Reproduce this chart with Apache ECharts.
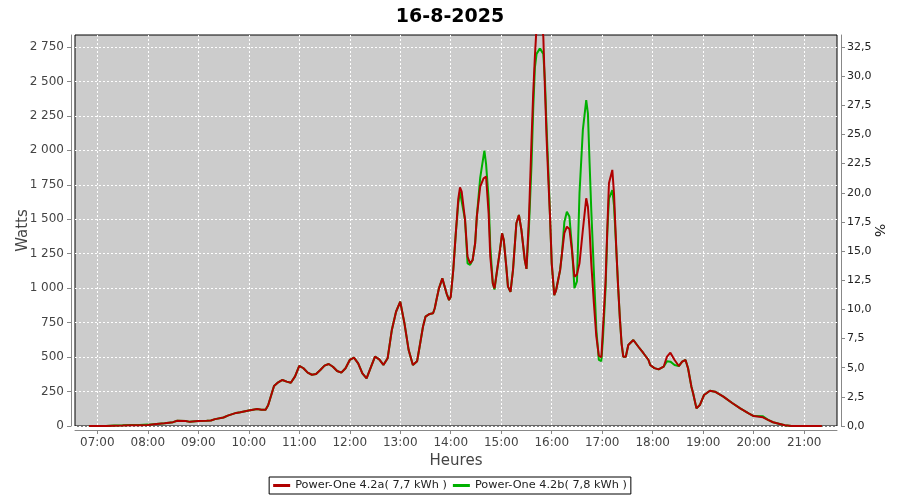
<!DOCTYPE html>
<html>
<head>
<meta charset="utf-8">
<script src="https://cdn.jsdelivr.net/npm/echarts@6/dist/echarts.min.js"></script>
<style>
html,body{margin:0;padding:0;background:#fff;}
#chart{width:900px;height:500px;}
</style>
</head>
<body>
<div id="chart"></div>
<script>
const titleText = '16-8-2025';
const seriesNames = ['Power-One 4.2a( 7,7 kWh )', 'Power-One 4.2b( 7,8 kWh )'];
const times = ['06:50','07:00','07:10','07:20','07:30','07:40','07:50','08:00','08:10','08:20','08:30','08:35','08:45','08:50','09:00','09:10','09:15','09:20','09:30','09:35','09:45','09:50','10:00','10:10','10:15','10:20','10:23','10:25','10:28','10:30','10:35','10:40','10:45','10:50','10:55','11:00','11:05','11:10','11:15','11:20','11:25','11:30','11:35','11:40','11:45','11:50','11:55','12:00','12:05','12:10','12:15','12:20','12:25','12:30','12:35','12:40','12:45','12:50','12:55','13:00','13:05','13:10','13:15','13:20','13:23','13:27','13:30','13:35','13:39','13:41','13:43','13:46','13:50','13:52','13:55','13:58','14:00','14:03','14:06','14:09','14:11','14:13','14:17','14:20','14:23','14:26','14:29','14:31','14:35','14:39','14:40','14:42','14:45','14:47','14:50','14:52','14:54','14:58','15:01','15:03','15:06','15:08','15:11','15:14','15:18','15:21','15:24','15:28','15:30','15:33','15:36','15:38','15:40','15:42','15:46','15:50','15:52','15:54','15:56','15:58','16:00','16:03','16:05','16:10','16:12','16:15','16:18','16:21','16:24','16:27','16:30','16:33','16:37','16:41','16:43','16:45','16:47','16:50','16:53','16:56','16:59','17:01','17:04','17:06','17:08','17:12','17:14','17:17','17:19','17:21','17:23','17:25','17:28','17:31','17:37','17:43','17:49','17:55','17:57','18:02','18:07','18:13','18:17','18:21','18:26','18:31','18:35','18:39','18:42','18:46','18:48','18:52','18:56','19:01','19:08','19:14','19:24','19:34','19:44','19:54','20:00','20:11','20:17','20:23','20:31','20:37','20:45','21:00','21:21'];
const powerA = [0,0,0,2,3,5,5,8,15,20,28,38,36,30,36,38,40,50,62,75,95,100,112,123,118,118,150,190,250,290,317,334,322,314,360,437,419,387,372,377,406,438,450,430,399,387,419,479,496,455,382,346,426,503,484,443,491,697,829,902,745,551,443,470,575,720,793,813,818,854,914,999,1071,1059,963,914,938,1132,1398,1650,1732,1700,1495,1228,1180,1204,1326,1519,1736,1797,1810,1809,1545,1228,1035,999,1083,1253,1398,1350,1156,1011,974,1132,1471,1531,1422,1204,1140,1519,2075,2414,2680,2900,3050,2825,2438,2075,1785,1519,1180,950,980,1132,1241,1400,1446,1430,1277,1083,1100,1180,1422,1652,1591,1422,1180,900,650,510,500,720,1050,1420,1761,1858,1688,1250,1000,780,600,503,503,588,624,575,528,479,443,420,411,430,503,532,479,435,467,479,419,285,237,128,152,225,256,249,213,169,128,92,72,63,44,27,15,5,0,0,0];
const powerB = [0,0,0,3,5,8,8,10,15,20,28,38,36,30,36,38,40,50,62,75,95,100,112,123,118,118,150,190,250,290,317,334,322,314,360,437,419,387,372,377,406,438,450,430,399,387,419,479,496,455,382,346,426,503,484,443,491,697,829,902,745,551,443,470,575,720,793,813,818,854,914,999,1071,1059,963,914,938,1132,1398,1620,1700,1690,1495,1180,1170,1204,1326,1519,1800,1960,1998,1900,1650,1300,1035,990,1083,1253,1398,1350,1156,1011,974,1132,1471,1531,1422,1204,1140,1450,1900,2300,2600,2700,2740,2700,2500,2150,1850,1519,1180,950,980,1132,1241,1480,1555,1520,1300,1000,1050,1688,2148,2365,2269,1906,1567,1132,700,480,470,650,1000,1400,1650,1712,1600,1250,1000,780,600,503,503,588,624,575,528,479,443,420,411,430,470,467,443,435,467,479,419,285,237,128,152,225,256,249,213,169,128,92,72,70,44,27,15,5,0,0,0];
const xTickHours = ['07:00','08:00','09:00','10:00','11:00','12:00','13:00','14:00','15:00','16:00','17:00','18:00','19:00','20:00','21:00'];
const leftTicks = [0,250,500,750,1000,1250,1500,1750,2000,2250,2500,2750];
const rightTicks = [0,2.5,5,7.5,10,12.5,15,17.5,20,22.5,25,27.5,30,32.5];

function toMin(s){const p=s.split(':');return (+p[0])*60+(+p[1]);}
function pad(n){return (n<10?'0':'')+n;}
const xMin = 393.5, xMax = 1299;
const yMax = 2837, rMax = 2837/(2750/32.5);

const dataA = times.map((t,i)=>[toMin(t), powerA[i]]);
const dataB = times.map((t,i)=>[toMin(t), powerB[i]]);

const FONT = 'DejaVu Sans';
const chart = echarts.init(document.getElementById('chart'), null, {renderer:'canvas'});
chart.setOption({
  animation:false,
  backgroundColor:'#ffffff',
  textStyle:{fontFamily:FONT},
  title:{text:titleText,left:'center',top:3,textStyle:{fontFamily:FONT,fontSize:19,fontWeight:'bold',color:'#000'}},
  grid:{left:75,right:63,top:35,bottom:74,show:true,backgroundColor:'#cccccc',borderColor:'#000',borderWidth:1,containLabel:false,outerBoundsMode:'none'},
  legend:{
    data:seriesNames, top:477, left:'center', orient:'horizontal',
    borderColor:'#000', borderWidth:1, padding:[3,4], itemGap:6,
    icon:'rect', itemWidth:17, itemHeight:3,
    textStyle:{fontFamily:FONT,fontSize:11.3,color:'#222'}
  },
  xAxis:{
    type:'value', min:xMin, max:xMax,
    name:'Heures', nameLocation:'middle', nameGap:24, nameMoveOverlap:false,
    nameTextStyle:{fontFamily:FONT,fontSize:15,color:'#444'},
    offset:4,
    axisLine:{show:true,onZero:false,lineStyle:{color:'#888',width:1}},
    axisTick:{show:true,length:4,lineStyle:{color:'#888'},customValues:xTickHours.map(toMin)},
    axisLabel:{show:true,margin:7,fontFamily:FONT,fontSize:12,color:'#444',customValues:xTickHours.map(toMin),
      formatter:v=>pad(Math.floor(v/60))+':'+pad(Math.round(v%60))},
    splitLine:{show:true,lineStyle:{color:'#ffffff',type:[2,2],width:1}}
  },
  yAxis:[{
    type:'value', min:0, max:yMax, position:'left',
    name:'Watts', nameLocation:'middle', nameGap:40, nameMoveOverlap:false,
    nameTextStyle:{fontFamily:FONT,fontSize:15,color:'#444'},
    offset:4,
    axisLine:{show:true,lineStyle:{color:'#888',width:1}},
    axisTick:{show:true,length:4,lineStyle:{color:'#888'},customValues:leftTicks},
    axisLabel:{show:true,margin:7,fontFamily:FONT,fontSize:12,color:'#444',customValues:leftTicks,
      formatter:v=>{const s=String(Math.round(v));return s.length>3?s.slice(0,s.length-3)+' '+s.slice(-3):s;}},
    splitLine:{show:true,lineStyle:{color:'#ffffff',type:[2,2],width:1}}
  },{
    type:'value', min:0, max:rMax, position:'right',
    name:'%', nameLocation:'middle', nameGap:31, nameRotate:-90, nameMoveOverlap:false,
    nameTextStyle:{fontFamily:FONT,fontSize:14,color:'#222'},
    offset:4,
    axisLine:{show:true,lineStyle:{color:'#888',width:1}},
    axisTick:{show:true,length:4,lineStyle:{color:'#888'},customValues:rightTicks},
    axisLabel:{show:true,margin:6,fontFamily:FONT,fontSize:11,color:'#222',customValues:rightTicks,
      formatter:v=>v.toFixed(1).replace('.',',')},
    splitLine:{show:false}
  }],
  series:[{
    name:seriesNames[0], type:'line', data:dataA, showSymbol:false, symbol:'none', z:3,
    lineStyle:{color:'#b00000',width:2}, itemStyle:{color:'#b00000'}, clip:true
  },{
    name:seriesNames[1], type:'line', data:dataB, showSymbol:false, symbol:'none', z:2,
    lineStyle:{color:'#00b000',width:2}, itemStyle:{color:'#00b000'}, clip:true
  }]
});
</script>
</body>
</html>
